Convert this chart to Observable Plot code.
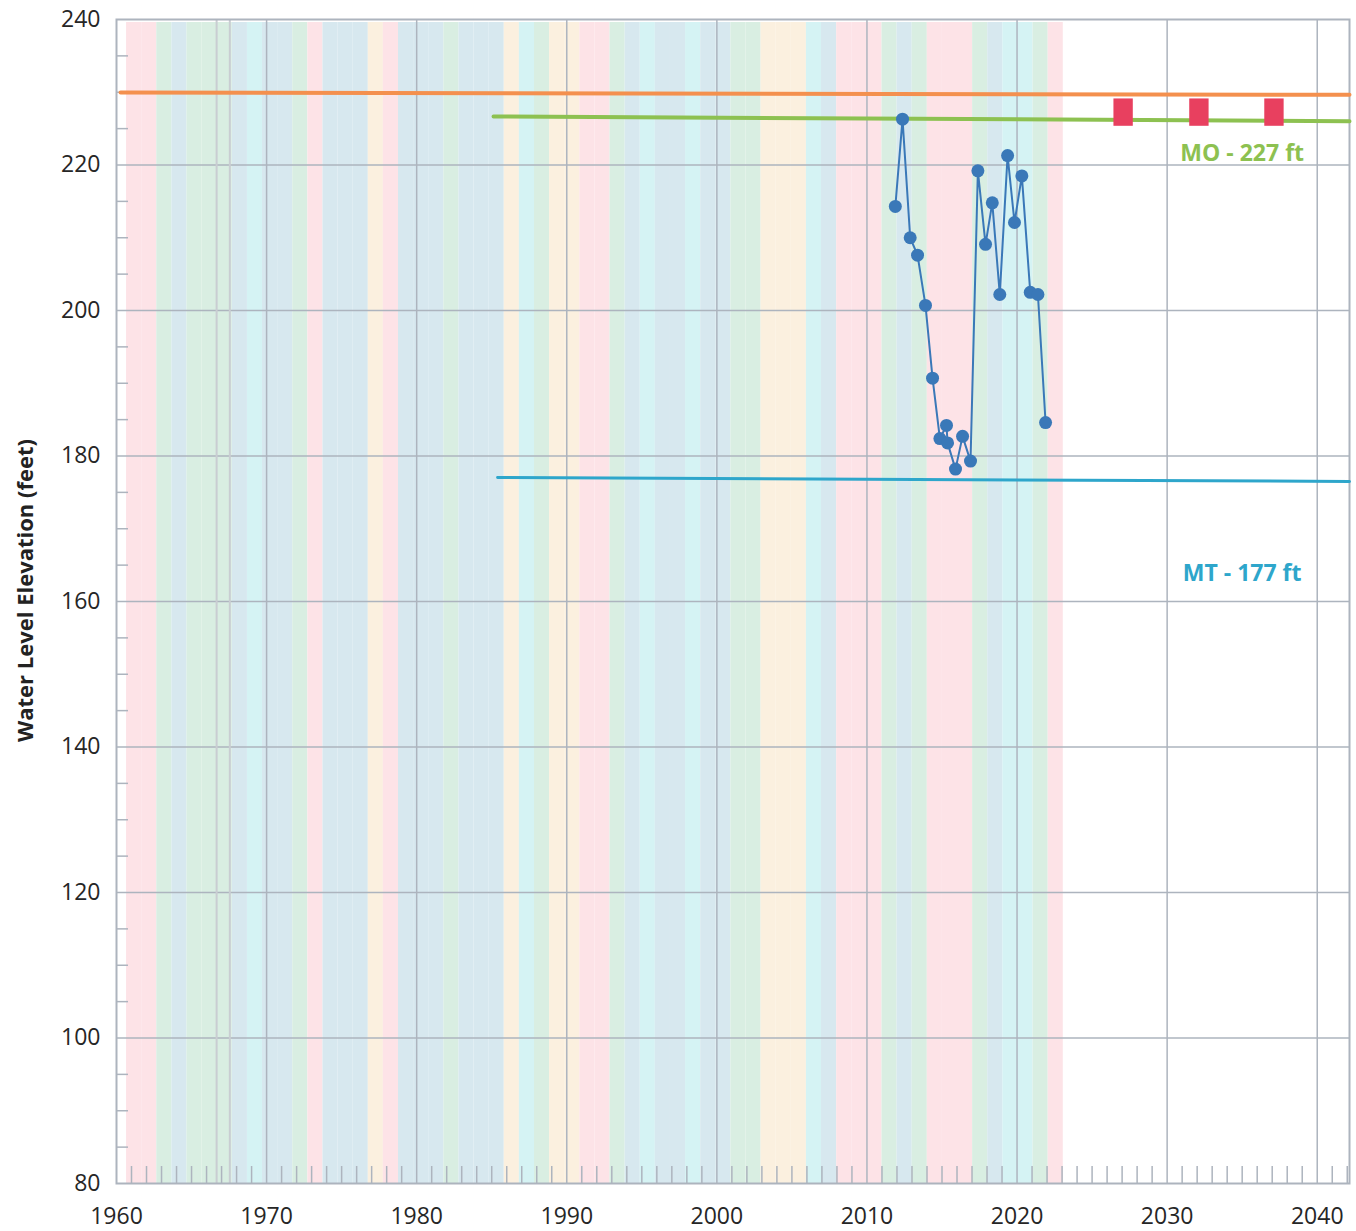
<!DOCTYPE html>
<html>
<head>
<meta charset="utf-8">
<script src="https://cdn.jsdelivr.net/npm/d3@7"></script>
<script src="https://cdn.jsdelivr.net/npm/@observablehq/plot@0.6"></script>
<style>
  body { margin: 0; background: #fff; }
  #chart { width: 1356px; height: 1231px; }
</style>
</head>
<body>
<div id="chart"></div>
<script>
// ---- data ----
const waterYears = d3.range(1961, 2023);
// P = pink, G = green, B = blue, C = cyan, Y = cream (water year type shading)
const yearTypes = [
  "P","P","G","B","G","G","G","B","C","B",
  "B","G","P","B","B","B","Y","P","B","B",
  "B","G","B","B","B","Y","C","G","Y","Y",
  "P","P","G","B","C","B","B","C","B","B",
  "G","G","Y","Y","Y","C","B","P","P","P",
  "G","B","G","P","P","P","G","B","C","C",
  "G","P"
];
const typeColors = { P: "#fde3e7", G: "#d9eee2", B: "#d7e8ef", C: "#d5f3f4", Y: "#fbf0df" };

const obsDates = [2011.89, 2012.37, 2012.88, 2013.37, 2013.90, 2014.37, 2014.86, 2015.30, 2015.37, 2015.90,
                  2016.37, 2016.90, 2017.39, 2017.90, 2018.35, 2018.85, 2019.37, 2019.83, 2020.32, 2020.88,
                  2021.39, 2021.90];
const obsValues = [214.3, 226.3, 210.0, 207.6, 200.7, 190.7, 182.4, 184.2, 181.8, 178.2,
                   182.7, 179.3, 219.2, 209.1, 214.8, 202.2, 221.3, 212.1, 218.5, 202.5,
                   202.2, 184.6];

const topLineYears = [1960.27, 2042.15];
const topLineValues = [229.97, 229.65];
const moYears = [1985.12, 2042.15];
const moValues = [226.67, 226.02];
const mtYears = [1985.39, 2042.15];
const mtValues = [177.04, 176.5];

const milestoneYears = [2027.1, 2032.15, 2037.15];
const milestoneValues = [227.2, 227.2, 227.2];

const xTickYears = [1960, 1970, 1980, 1990, 2000, 2010, 2020, 2030, 2040];
const yTickValues = [80, 100, 120, 140, 160, 180, 200, 220, 240];
const paleLineYears = [1966.67, 1967.55];

// ---- derived tables ----
const bandSpan = [1960.67, 2023.08];
const bandW = (bandSpan[1] - bandSpan[0]) / waterYears.length;
const bands = waterYears.map((wy, i) => ({
  wy, type: yearTypes[i],
  x1: bandSpan[0] + i * bandW, x2: bandSpan[0] + (i + 1) * bandW
}));
const obs = obsDates.map((t, i) => ({ t, v: obsValues[i] }));
const zipLine = (xs, ys) => xs.map((x, i) => ({ x, y: ys[i] }));
const milestones = milestoneYears.map((t, i) => ({ t, v: milestoneValues[i] }));
const minorYears = d3.range(1961, 2043).filter(y => y % 10 !== 0);
const minorVals = d3.range(85, 240, 5).filter(v => v % 20 !== 0);
const gridYears = xTickYears.filter(y => y > 1960);
const gridVals = yTickValues.filter(v => v > 80 && v < 240);

const gray = "#adb4be";
const frameH = 1231 - 19 - 48;
const frameW = 1356 - 116 - 7;

const chart = Plot.plot({
  width: 1356,
  height: 1231,
  marginLeft: 116,
  marginRight: 7,
  marginTop: 19,
  marginBottom: 48,
  style: { fontFamily: "'Open Sans', sans-serif", color: "#262626", background: "#fff" },
  x: { domain: [1960, 2042.15], label: null },
  y: { domain: [80, 240], label: null },
  marks: [
    Plot.rect(bands, { x1: "x1", x2: "x2", fill: d => typeColors[d.type], insetTop: 3 }),
    Plot.ruleY(gridVals, { stroke: gray, strokeWidth: 1.5 }),
    Plot.ruleX(gridYears, { stroke: gray, strokeWidth: 1.5 }),
    Plot.ruleX(paleLineYears, { stroke: "#c9cdd2", strokeWidth: 2 }),
    Plot.ruleX(minorYears, { stroke: gray, strokeWidth: 1.5, insetTop: frameH - 17 }),
    Plot.ruleY(minorVals, { stroke: gray, strokeWidth: 1.5, insetRight: frameW - 12 }),
    Plot.frame({ stroke: gray, strokeWidth: 2 }),
    Plot.line(zipLine(topLineYears, topLineValues), { x: "x", y: "y", stroke: "#f4904e", strokeWidth: 4 }),
    Plot.line(zipLine(moYears, moValues), { x: "x", y: "y", stroke: "#8dc151", strokeWidth: 4 }),
    Plot.line(zipLine(mtYears, mtValues), { x: "x", y: "y", stroke: "#2ea6cb", strokeWidth: 3 }),
    Plot.rect(milestones, {
      x1: d => d.t - 0.645, x2: d => d.t + 0.645,
      y1: d => d.v - 1.88, y2: d => d.v + 1.88,
      fill: "#e8405f"
    }),
    Plot.line(obs, { x: "t", y: "v", stroke: "#3a78b8", strokeWidth: 2 }),
    Plot.dot(obs, { x: "t", y: "v", r: 6.5, fill: "#3a78b8", stroke: "none" }),
    Plot.text(["MO - 227 ft"], { x: 2035, y: 221.6, text: d => d, fill: "#8dc151", fontWeight: "bold", fontSize: 23 }),
    Plot.text(["MT - 177 ft"], { x: 2035, y: 163.85, text: d => d, fill: "#2ea6cb", fontWeight: "bold", fontSize: 23 }),
    Plot.axisY({ ticks: yTickValues, tickSize: 0, tickPadding: 16, fontSize: 23, tickFormat: d => String(d), fill: "#262626" }),
    Plot.axisX({ ticks: xTickYears, tickSize: 0, tickPadding: 24, fontSize: 23, tickFormat: d => String(d), fill: "#262626" }),
    Plot.text(["Water Level Elevation (feet)"], {
      frameAnchor: "left", textAnchor: "middle", text: d => d, rotate: -90, dx: -91, dy: -11,
      fontWeight: "bold", fontSize: 22, fill: "#222"
    })
  ]
});
document.getElementById("chart").appendChild(chart);
</script>
</body>
</html>
